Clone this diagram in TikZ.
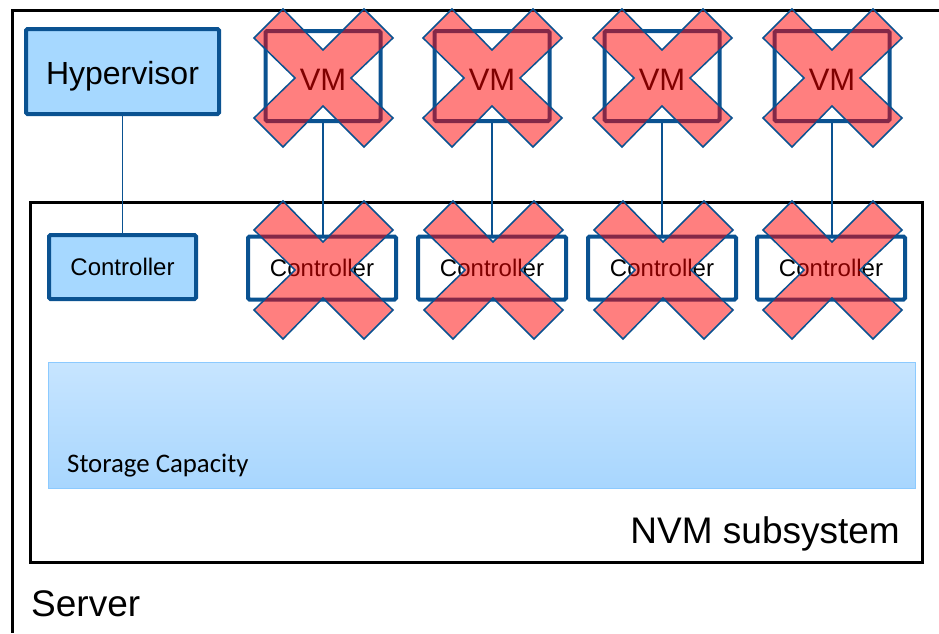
\documentclass[tikz,border=0pt]{standalone}
\usepackage{fontspec}
\setmainfont{Liberation Sans}
\newfontfamily\carlitofont{Carlito}
\usetikzlibrary{calc}
\definecolor{dblue}{RGB}{10,82,145}
\definecolor{hvblue}{RGB}{166,216,255}
\definecolor{sctop}{RGB}{199,229,255}
\definecolor{scbot}{RGB}{168,214,254}
\definecolor{scline}{RGB}{140,202,255}
\tikzset{
  frame/.style={draw=black, line width=3pt},
  bluebox/.style={draw=dblue, fill=hvblue, line width=4pt, rounded corners=1.5pt, inner sep=0pt},
  whitebox/.style={draw=dblue, fill=white, line width=4pt, rounded corners=1.5pt, inner sep=0pt},
  conn/.style={draw=dblue, line width=1.4pt},
  redx/.style={draw=dblue, line width=1.5pt, fill=red, fill opacity=0.5, line join=miter},
  storagebox/.style={draw=scline, line width=1pt, top color=sctop, bottom color=scbot, inner sep=0pt}
}
\newcommand\redcross[1]{%
  \begin{scope}[shift={(#1)}]
    \path[redx] (-40,-69) -- (0,-28) -- (41,-69) -- (70,-40) -- (28,0) -- (70,40)
      -- (41,69) -- (0,28) -- (-40,69) -- (-69,40) -- (-28,0) -- (-69,-40) -- cycle;
  \end{scope}}
\begin{document}
\begin{tikzpicture}[x=1pt,y=-1pt]
\useasboundingbox (0,0) rectangle (939,633);
% server frame
\coordinate (srvtr) at (939,10);
\coordinate (srvtl) at (12,10);
\coordinate (srvbl) at (12,633);
\draw[frame] (srvtr) -- (srvtl) -- (srvbl);
\node[anchor=base west, inner sep=0pt, font=\fontsize{37}{40}\selectfont] (server) at (31,616) {Server};
% NVM subsystem
\draw[frame] (30,202) rectangle (922,562);
\node[anchor=base east, inner sep=0pt, font=\fontsize{37}{40}\selectfont] (nvm) at (900,543) {NVM subsystem};
% storage
\node[storagebox, minimum width=867pt, minimum height=126pt] (sc) at (482,425) {};
\node[anchor=base west, inner sep=0pt, font=\carlitofont\fontsize{26.8}{30}\selectfont] (sctext) at (67,472) {Storage Capacity};
% hypervisor + controller
\node[bluebox, minimum width=193pt, minimum height=85pt, text height=25pt, text depth=0pt, font=\fontsize{32}{36}\selectfont] (hv) at (122.5,71.5) {Hypervisor};
\node[bluebox, minimum width=147pt, minimum height=64pt, font=\fontsize{24}{28}\selectfont] (c0) at (122.5,267) {Controller};
\draw[conn] (hv.south) -- (c0.north);
% VMs and controllers
\foreach \i/\xv/\xc in {1/323/322, 2/492/492, 3/662/662, 4/832/831}{
  \node[whitebox, minimum width=115pt, minimum height=90pt, text height=28pt, text depth=0pt, font=\fontsize{31}{36}\selectfont] (vm\i) at (\xv,76) {VM};
  \node[whitebox, minimum width=148pt, minimum height=63pt, font=\fontsize{24}{28}\selectfont] (c\i) at (\xc,268) {Controller};
  \draw[conn] (vm\i.south) -- (vm\i.south |- c\i.north);
}
% crosses over VMs and controllers
\foreach \i in {1,...,4}{
  \redcross{$(vm\i.center)+(0,2)$}
  \redcross{$(c\i.center)+(1,2)$}
}
\end{tikzpicture}
\end{document}
